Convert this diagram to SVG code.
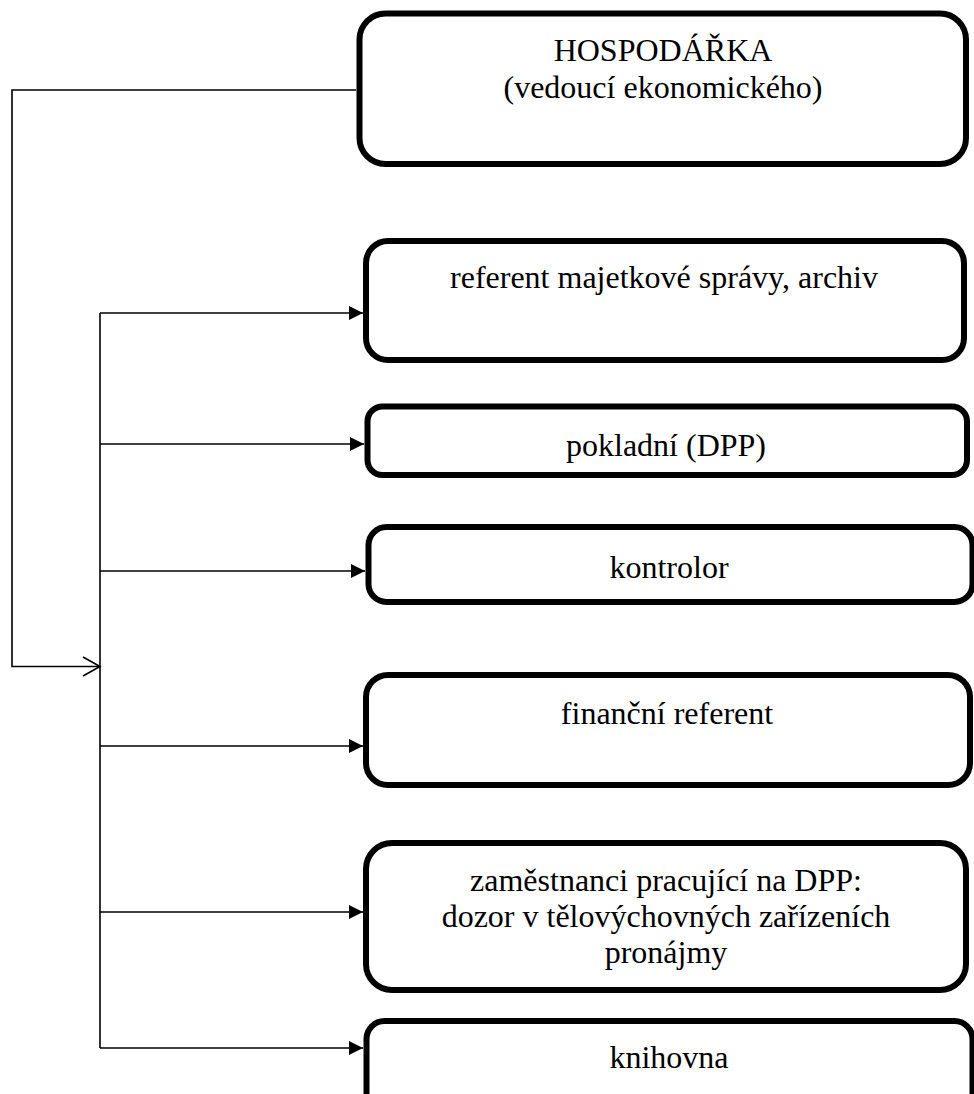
<svg xmlns="http://www.w3.org/2000/svg" width="974" height="1094" viewBox="0 0 974 1094">
  <style>
    .box { fill: #ffffff; stroke: #000000; stroke-width: 6; }
    .lbl { font-family: "Liberation Serif", "Times New Roman", serif; font-size: 32px; fill: #000000; text-anchor: middle; }
    .wire { fill: none; stroke: #000000; stroke-width: 1.6; }
  </style>
  <defs>
    <marker id="solid" viewBox="0 0 14 14" refX="14" refY="7" markerWidth="14" markerHeight="14" markerUnits="userSpaceOnUse" orient="auto">
      <path d="M0,0 L14,7 L0,14 Z" fill="#000000"/>
    </marker>
  </defs>

  <!-- connectors -->
  <g id="connectors">
    <!-- from the head box down the left side into the bus -->
    <path class="wire" d="M356,90 H12 V666.5 H100"/>
    <path class="wire" d="M83,657 L100,666.5 L83,676"/>
    <!-- vertical bus -->
    <path class="wire" d="M100,313 V1048"/>
    <!-- branches -->
    <path class="wire" d="M100,313 H363" marker-end="url(#solid)"/>
    <path class="wire" d="M100,444 H364" marker-end="url(#solid)"/>
    <path class="wire" d="M100,571 H365" marker-end="url(#solid)"/>
    <path class="wire" d="M100,746 H363" marker-end="url(#solid)"/>
    <path class="wire" d="M100,912 H363" marker-end="url(#solid)"/>
    <path class="wire" d="M100,1048 H363" marker-end="url(#solid)"/>
  </g>

  <g id="hospodarka">
    <rect class="box" x="359.5" y="13.5" width="606.5" height="150.5" rx="26"/>
    <text class="lbl" x="663" y="61">HOSPODÁŘKA</text>
    <text class="lbl" x="663" y="98">(vedoucí ekonomického)</text>
  </g>

  <g id="referent-majetek">
    <rect class="box" x="366" y="241" width="598" height="119" rx="22"/>
    <text class="lbl" x="664" y="288">referent majetkové správy, archiv</text>
  </g>

  <g id="pokladni">
    <rect class="box" x="367.5" y="406.5" width="599.5" height="68.5" rx="15"/>
    <text class="lbl" x="666" y="456">pokladní (DPP)</text>
  </g>

  <g id="kontrolor">
    <rect class="box" x="368.5" y="527" width="604" height="75" rx="18"/>
    <text class="lbl" x="669" y="578">kontrolor</text>
  </g>

  <g id="financni-referent">
    <rect class="box" x="366" y="675" width="604" height="110" rx="22"/>
    <text class="lbl" x="667" y="724">finanční referent</text>
  </g>

  <g id="zamestnanci-dpp">
    <rect class="box" x="366" y="843" width="600" height="147" rx="26"/>
    <text class="lbl" x="666" y="891">zaměstnanci pracující na DPP:</text>
    <text class="lbl" x="666" y="927">dozor v tělovýchovných zařízeních</text>
    <text class="lbl" x="666" y="963">pronájmy</text>
  </g>

  <g id="knihovna">
    <rect class="box" x="366.5" y="1021" width="606" height="100" rx="18"/>
    <text class="lbl" x="669" y="1068">knihovna</text>
  </g>
</svg>
